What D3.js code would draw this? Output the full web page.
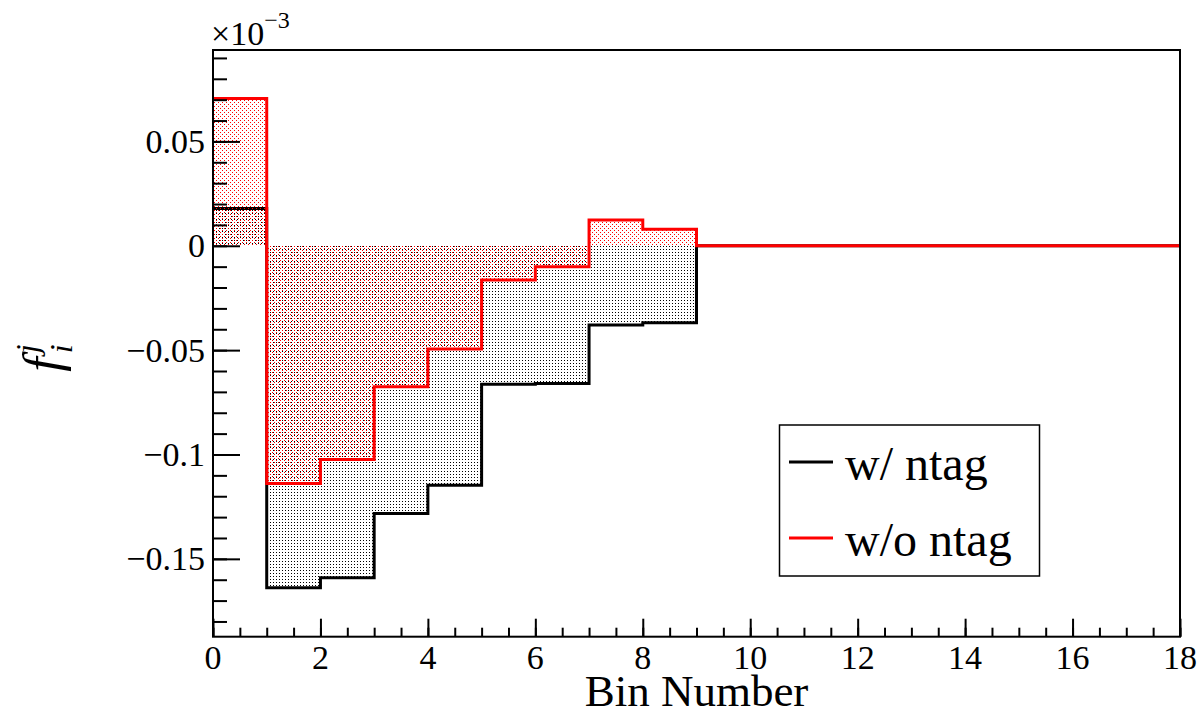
<!DOCTYPE html>
<html>
<head>
<meta charset="utf-8">
<script src="https://cdn.jsdelivr.net/npm/d3@7"></script>
<style>
  html, body { margin: 0; padding: 0; background: #fff; }
  svg { display: block; font-family: "Liberation Serif", "Times New Roman", serif; }
</style>
</head>
<body>
<svg id="chart" width="1200" height="717"></svg>
<script>
// Bin edges 0..18, one value per bin (in units of 1e-3)
const binEdges = d3.range(0, 19);
const withNtag = [0.0179, -0.1639, -0.1590, -0.1283, -0.1147, -0.0663, -0.0660, -0.0380, -0.0369,
                  0, 0, 0, 0, 0, 0, 0, 0, 0];
const withoutNtag = [0.0706, -0.1139, -0.1024, -0.0676, -0.0494, -0.0164, -0.0100, 0.0123, 0.0079,
                     0, 0, 0, 0, 0, 0, 0, 0, 0];
const seriesNames = ["w/ ntag", "w/o ntag"];
const seriesColors = ["#000000", "#ff0000"];
const xTickValues = [0, 2, 4, 6, 8, 10, 12, 14, 16, 18];
const yTickValues = [-0.15, -0.1, -0.05, 0, 0.05];
const yTickLabels = ["\u22120.15", "\u22120.1", "\u22120.05", "0", "0.05"];

const svg = d3.select("#chart");
const frame = { left: 213, right: 1180, top: 50, bottom: 636.7 };

const x = d3.scaleLinear().domain([0, 18]).range([frame.left, frame.right]);
const y = d3.scaleLinear().domain([-0.1873, 0.0938]).range([frame.bottom, frame.top]);

// Dotted fill patterns (staggered single-pixel dots)
const defs = svg.append("defs");
function dotPattern(id, color, dots, w, h) {
  const p = defs.append("pattern")
    .attr("id", id).attr("patternUnits", "userSpaceOnUse")
    .attr("width", w).attr("height", h);
  dots.forEach(([dx, dy]) => {
    p.append("rect").attr("x", dx).attr("y", dy).attr("width", 1).attr("height", 1).attr("fill", color);
  });
}
dotPattern("dotsBlack", "#000", [[0, 0]], 3, 3);
dotPattern("dotsRed", "#ff0000", [[0, 0], [2, 2]], 4, 4);

function stepPoints(vals) {
  const pts = vals.map((v, i) => [binEdges[i], v]);
  pts.push([binEdges[vals.length], vals[vals.length - 1]]);
  return pts;
}

const area = d3.area()
  .x(d => x(d[0])).y0(y(0)).y1(d => y(d[1]))
  .curve(d3.curveStepAfter);
const line = d3.line()
  .x(d => x(d[0])).y(d => y(d[1]))
  .curve(d3.curveStepAfter);

const plot = svg.append("g");
[[withNtag, "dotsBlack", seriesColors[0]], [withoutNtag, "dotsRed", seriesColors[1]]].forEach(([vals, pat, col]) => {
  const pts = stepPoints(vals);
  plot.append("path").attr("d", area(pts))
    .attr("fill", `url(#${pat})`).attr("shape-rendering", "crispEdges");
  plot.append("path").attr("d", line(pts))
    .attr("fill", "none").attr("stroke", col).attr("stroke-width", 3);
});

// Frame
svg.append("rect")
  .attr("x", frame.left).attr("y", frame.top)
  .attr("width", frame.right - frame.left).attr("height", frame.bottom - frame.top)
  .attr("fill", "none").attr("stroke", "#000").attr("stroke-width", 2);

// X axis: major ticks every 2, minor every 0.5, ticks pointing inward
const xAxis = d3.axisTop(x).tickValues(xTickValues).tickSize(18).tickFormat("");
const gx = svg.append("g").attr("transform", `translate(0,${frame.bottom})`).call(xAxis);
const xMinor = d3.axisTop(x).tickValues(d3.range(0, 18.01, 0.5)).tickSize(9).tickFormat("");
const gxm = svg.append("g").attr("transform", `translate(0,${frame.bottom})`).call(xMinor);
[gx, gxm].forEach(g => {
  g.select(".domain").remove();
  g.selectAll("line").attr("stroke", "#000").attr("stroke-width", 2);
});
svg.append("g").selectAll("text").data(xTickValues).join("text")
  .attr("x", d => x(d)).attr("y", 669)
  .attr("text-anchor", "middle").attr("font-size", 34).text(d => d);

// Y axis: major ticks every 0.05, minor every 0.01
const yAxis = d3.axisRight(y).tickValues(yTickValues).tickSize(27).tickFormat("");
const gy = svg.append("g").attr("transform", `translate(${frame.left},0)`).call(yAxis);
const yMinor = d3.axisRight(y).tickValues(d3.range(-18, 10).map(d => d / 100)).tickSize(14).tickFormat("");
const gym = svg.append("g").attr("transform", `translate(${frame.left},0)`).call(yMinor);
[gy, gym].forEach(g => {
  g.select(".domain").remove();
  g.selectAll("line").attr("stroke", "#000").attr("stroke-width", 2);
});
svg.append("g").selectAll("text").data(yTickValues).join("text")
  .attr("x", 205).attr("y", d => y(d) + 11.5)
  .attr("text-anchor", "end").attr("font-size", 34)
  .text((d, i) => yTickLabels[i]);

// Exponent label
const expo = svg.append("text").attr("x", 211).attr("y", 45).attr("font-size", 34);
expo.append("tspan").text("\u00d710");
expo.append("tspan").attr("font-size", 24).attr("dy", -17).text("\u22123");

// Axis titles
svg.append("text")
  .attr("x", x(9)).attr("y", 706)
  .attr("text-anchor", "middle").attr("font-size", 45).text("Bin Number");

const yTitle = svg.append("text")
  .attr("transform", "translate(60,358) rotate(-90)")
  .attr("text-anchor", "middle").attr("font-size", 52).attr("font-style", "italic");
yTitle.append("tspan").text("f");
yTitle.append("tspan").attr("font-size", 32).attr("dy", -22).attr("dx", 4).text("j");
yTitle.append("tspan").attr("font-size", 32).attr("dy", 34).attr("dx", -9).text("i");

// Legend
const legend = svg.append("g");
legend.append("rect")
  .attr("x", 779.5).attr("y", 425).attr("width", 260).attr("height", 151)
  .attr("fill", "#fff").attr("stroke", "#000").attr("stroke-width", 1.5);
seriesNames.forEach((name, i) => {
  const cy = [462, 538][i];
  legend.append("line")
    .attr("x1", 789).attr("x2", 833).attr("y1", cy).attr("y2", cy)
    .attr("stroke", seriesColors[i]).attr("stroke-width", 3);
  legend.append("text")
    .attr("x", 845).attr("y", [480, 556][i])
    .attr("font-size", 48).text(name);
});
</script>
</body>
</html>
